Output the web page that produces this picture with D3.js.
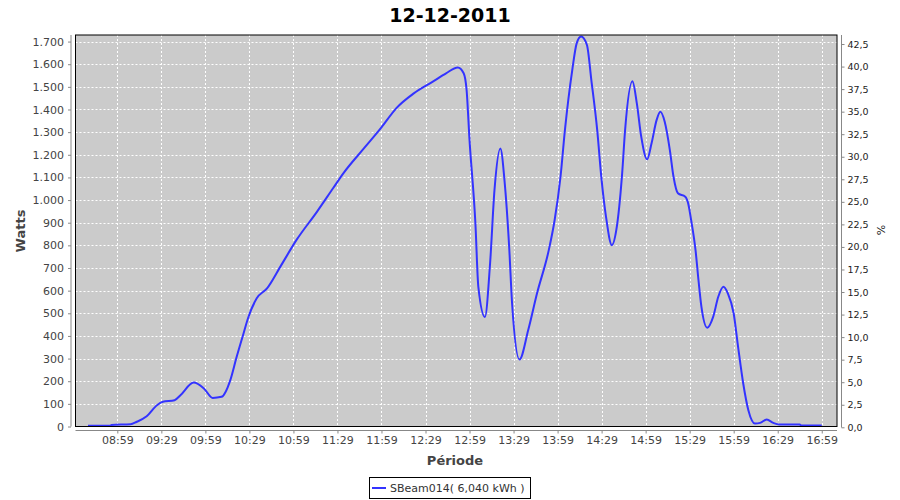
<!DOCTYPE html>
<html><head><meta charset="utf-8">
<script src="https://cdn.jsdelivr.net/npm/d3@7"></script>
<style>
html,body{margin:0;padding:0;background:#fff;}
svg{display:block;font-family:"DejaVu Sans",sans-serif;}
</style></head>
<body><svg id="c" width="900" height="500"></svg>
<script>
const title = "12-12-2011";
const xLabel = "Période";
const yLabel = "Watts";
const y2Label = "%";
const legendLabel = "SBeam014( 6,040 kWh )";

const times = ["08:39:00","08:54:00","08:55:00","09:08:00","09:12:00","09:19:00","09:26:00","09:30:00","09:38:00","09:42:00",
"09:51:00","09:58:00","10:04:00","10:10:00","10:16:00","10:20:00","10:25:00","10:28:00","10:34:00","10:41:00",
"10:50:00","11:01:00","11:15:00","11:26:00","11:33:00","11:47:00","11:59:00","12:09:00","12:21:00","12:34:00",
"12:43:00","12:51:00","12:55:00","12:57:00","12:59:00","13:03:00","13:05:00","13:09:30","13:13:00","13:16:00",
"13:20:00","13:23:00","13:26:00","13:28:00","13:33:00","13:39:00","13:45:00","13:53:00","13:57:00","14:01:00",
"14:04:00","14:09:00","14:12:00","14:15:00","14:19:00","14:22:00","14:26:00","14:29:00","14:32:00","14:36:00",
"14:39:00","14:43:00","14:45:00","14:50:00","14:53:00","14:56:00","15:00:00","15:03:00","15:06:30","15:09:00",
"15:12:00","15:15:30","15:18:00","15:21:00","15:26:00","15:28:00","15:30:00","15:33:00","15:35:00","15:37:00",
"15:41:00","15:45:00","15:48:30","15:52:00","15:55:00","15:59:00","16:02:00","16:05:30","16:09:00","16:13:30",
"16:17:00","16:21:30","16:26:00","16:30:00","16:44:00","16:45:00","16:59:00"];
const watts = [3,3,7,10,20,45,94,109,116,138,
194,168,126,131,205,300,411,477,566,610,
705,823,948,1052,1118,1228,1321,1405,1471,1523,
1560,1585,1560,1486,1265,897,617,484,720,1044,
1228,1074,794,543,296,426,588,779,912,1103,
1309,1574,1692,1722,1685,1530,1309,1088,926,801,
867,1118,1309,1525,1427,1280,1180,1250,1354,1390,
1346,1221,1103,1030,1015,985,912,779,647,529,
436,484,573,617,588,499,352,190,72,13,
16,31,16,9,9,4,4];

const xTicks = ["08:59","09:29","09:59","10:29","10:59","11:29","11:59","12:29","12:59","13:29","13:59","14:29","14:59","15:29","15:59","16:29","16:59"];
const xDomain = ["08:30:30","17:09:24"];
const yTicks = [0,100,200,300,400,500,600,700,800,900,1000,1100,1200,1300,1400,1500,1600,1700];
const yDomain = [0,1729];
const y2Ticks = [0,2.5,5,7.5,10,12.5,15,17.5,20,22.5,25,27.5,30,32.5,35,37.5,40,42.5];
const y2Domain = [0,43.5];

const parseS = d3.timeParse("%H:%M:%S");
const parseM = d3.timeParse("%H:%M");
const data = times.map((t,i)=>({t:parseS(t), v:watts[i]}));

const svg = d3.select("#c");
const L=75.5, R=837, T=35, B=426.5;

const x = d3.scaleTime().domain(xDomain.map(parseS)).range([L,R]);
const y = d3.scaleLinear().domain(yDomain).range([B,T]);
const y2 = d3.scaleLinear().domain(y2Domain).range([B+0.8,T]);

svg.append("rect").attr("width",900).attr("height",500).attr("fill","#fff");
svg.append("text").attr("x",450).attr("y",22).attr("text-anchor","middle")
  .attr("font-size",19).attr("font-weight","bold").attr("fill","#000").text(title);

// plot background
svg.append("rect").attr("x",L).attr("y",T).attr("width",R-L).attr("height",B-T).attr("fill","#cbcbcb");

// grid
const g = svg.append("g").attr("stroke","#fff").attr("stroke-width",1).attr("stroke-dasharray","2,2");
xTicks.forEach(s=>{const xx=Math.round(x(parseM(s)))+0.5;
  g.append("line").attr("x1",xx).attr("x2",xx).attr("y1",T).attr("y2",B);});
yTicks.forEach(v=>{const yy=Math.round(y(v))+0.5;
  g.append("line").attr("x1",L).attr("x2",R).attr("y1",yy).attr("y2",yy);});

// line
const line = d3.line().x(d=>x(d.t)).y(d=>y(d.v)).curve(d3.curveMonotoneX);
svg.append("path").datum(data).attr("d",line).attr("fill","none")
  .attr("stroke","#3333ff").attr("stroke-width",2).attr("stroke-linejoin","round");

// border
svg.append("rect").attr("x",L).attr("y",T).attr("width",R-L).attr("height",B-T)
  .attr("fill","none").attr("stroke","#000").attr("stroke-width",1);

// axes
const axL = d3.axisLeft(y).tickValues(yTicks).tickSize(3).tickPadding(4)
  .tickFormat(d=>d3.format(",")(d).replace(/,/g,"."));
const gL = svg.append("g").attr("transform","translate(71,0)").call(axL);
gL.select(".domain").attr("stroke","#888").attr("d",`M0,${T}V${B}`);
gL.selectAll(".tick line").attr("stroke","#888");
gL.selectAll("text").attr("font-size",11).attr("fill","#444").attr("font-family","DejaVu Sans");

const axR = d3.axisRight(y2).tickValues(y2Ticks).tickSize(3).tickPadding(3)
  .tickFormat(d=>d3.format(".1f")(d).replace(".",","));
const gR = svg.append("g").attr("transform","translate(841.5,0)").call(axR);
gR.select(".domain").attr("stroke","#888").attr("d",`M0,${T}V${B+1}`);
gR.selectAll(".tick line").attr("stroke","#888");
gR.selectAll("text").attr("font-size",9.5).attr("fill","#222").attr("font-family","DejaVu Sans");

const axB = d3.axisBottom(x).tickValues(xTicks.map(parseM)).tickSize(3).tickPadding(3)
  .tickFormat(d3.timeFormat("%H:%M"));
const gB = svg.append("g").attr("transform","translate(0,430.5)").call(axB);
gB.select(".domain").attr("stroke","#888").attr("d",`M${L},0H${R}`);
gB.selectAll(".tick line").attr("stroke","#888");
gB.selectAll("text").attr("font-size",11).attr("fill","#444").attr("font-family","DejaVu Sans");

// axis labels
svg.append("text").attr("x",455).attr("y",465).attr("text-anchor","middle")
  .attr("font-size",13).attr("font-weight","bold").attr("fill","#444").text(xLabel);
svg.append("text").attr("transform","translate(25,231) rotate(-90)").attr("text-anchor","middle")
  .attr("font-size",13).attr("font-weight","bold").attr("fill","#444").text(yLabel);
svg.append("text").attr("transform","translate(885,230) rotate(-90)").attr("text-anchor","middle")
  .attr("font-size",11).attr("fill","#222").text(y2Label);

// legend
const lg = svg.append("g");
lg.append("rect").attr("x",369.5).attr("y",477.5).attr("width",161).attr("height",21)
  .attr("fill","#fff").attr("stroke","#000").attr("stroke-width",1);
lg.append("line").attr("x1",372).attr("x2",386).attr("y1",488).attr("y2",488)
  .attr("stroke","#3333ff").attr("stroke-width",2);
lg.append("text").attr("x",390).attr("y",492).attr("font-size",11).attr("fill","#333").text(legendLabel);
</script></body></html>
